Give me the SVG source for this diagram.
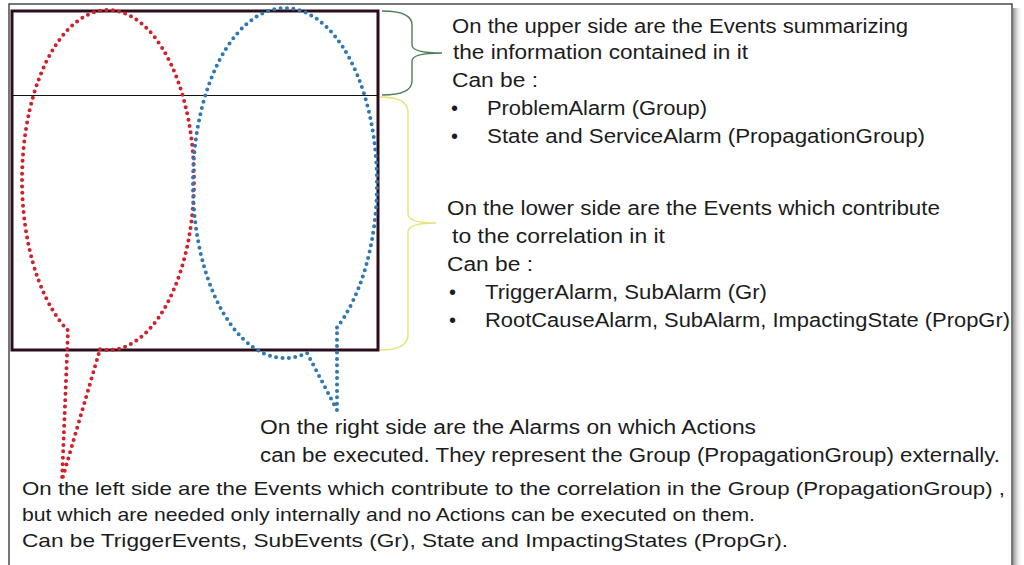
<svg xmlns="http://www.w3.org/2000/svg" width="1024" height="565" viewBox="0 0 1024 565">
  <defs>
    <linearGradient id="shadow" x1="0" y1="0" x2="1" y2="0">
      <stop offset="0" stop-color="#777" stop-opacity="0.8"/>
      <stop offset="1" stop-color="#fff" stop-opacity="0"/>
    </linearGradient>
    <style>
      .t { font-family: "Liberation Sans", Arial, sans-serif; fill: #1c1c1c; }
      .up { font-size: 20px; }
      .lo { font-size: 19px; }
      .dots { fill: none; stroke-width: 4; stroke-linecap: round; stroke-dasharray: 0 6.4; }
      .brace { fill: none; stroke-width: 1.4; }
    </style>
  </defs>
  <rect width="1024" height="565" fill="#ffffff"/>

  <g id="frame">
    <rect x="1013" y="8" width="10" height="560" fill="url(#shadow)"/>
    <rect x="9" y="4" width="1003" height="570" fill="#ffffff" stroke="#4a4a4a" stroke-width="1.5"/>
  </g>

  <g id="box">
    <rect x="12" y="11" width="366" height="339" fill="none" stroke="#2b0d1e" stroke-width="3"/>
    <line x1="12" y1="95.5" x2="379" y2="95.5" stroke="#111" stroke-width="1"/>
  </g>

  <g id="callout-left">
    <path class="dots" stroke="#d0202c" d="M100 349.3 A86 170 0 1 0 68 330.5 L62 480 Z"/>
  </g>

  <g id="callout-right">
    <path class="dots" stroke="#2f78b0" d="M337 327.4 A92 175 0 1 0 307 353 L337 410 Z"/>
  </g>

  <g id="connectors">
    <path id="brace-upper" class="brace" stroke="#4e7d55" d="M382 11 Q412 11 412 25 L412 45 Q412 53 442 53 Q412 53 412 61 L412 81 Q412 95 382 95"/>
    <path id="brace-lower" class="brace" stroke="#e4e47a" d="M380 97 Q408 97 408 112 L408 214 Q408 223 436 223 Q408 223 408 232 L408 335 Q408 350 380 350"/>
  </g>

  <g id="text-upper" class="t up">
    <text x="452" y="33" textLength="456" lengthAdjust="spacingAndGlyphs">On the upper side are the Events summarizing</text>
    <text x="453" y="59" textLength="295" lengthAdjust="spacingAndGlyphs">the information contained in it</text>
    <text x="452" y="87" textLength="86" lengthAdjust="spacingAndGlyphs">Can be :</text>
    <text x="451" y="115">•</text>
    <text x="487" y="115" textLength="220" lengthAdjust="spacingAndGlyphs">ProblemAlarm (Group)</text>
    <text x="451" y="143">•</text>
    <text x="487" y="143" textLength="438" lengthAdjust="spacingAndGlyphs">State and ServiceAlarm (PropagationGroup)</text>
  </g>

  <g id="text-lower" class="t up">
    <text x="447" y="215" textLength="493" lengthAdjust="spacingAndGlyphs">On the lower side are the Events which contribute</text>
    <text x="452" y="243" textLength="213" lengthAdjust="spacingAndGlyphs">to the correlation in it</text>
    <text x="447" y="271" textLength="86" lengthAdjust="spacingAndGlyphs">Can be :</text>
    <text x="449" y="299">•</text>
    <text x="485" y="299" textLength="282" lengthAdjust="spacingAndGlyphs">TriggerAlarm, SubAlarm (Gr)</text>
    <text x="449" y="327">•</text>
    <text x="485" y="327" textLength="525" lengthAdjust="spacingAndGlyphs">RootCauseAlarm, SubAlarm, ImpactingState (PropGr)</text>
  </g>

  <g id="text-right" class="t up">
    <text x="260" y="434" textLength="496" lengthAdjust="spacingAndGlyphs">On the right side are the Alarms on which Actions</text>
    <text x="260" y="462" textLength="740" lengthAdjust="spacingAndGlyphs">can be executed. They represent the Group (PropagationGroup) externally.</text>
  </g>

  <g id="text-left" class="t lo">
    <text x="22" y="495" textLength="983" lengthAdjust="spacingAndGlyphs">On the left side are the Events which contribute to the correlation in the Group (PropagationGroup) ,</text>
    <text x="22" y="521" textLength="733" lengthAdjust="spacingAndGlyphs">but which are needed only internally and no Actions can be executed on them.</text>
    <text x="22" y="547" textLength="766" lengthAdjust="spacingAndGlyphs">Can be TriggerEvents, SubEvents (Gr), State and ImpactingStates (PropGr).</text>
  </g>
</svg>
